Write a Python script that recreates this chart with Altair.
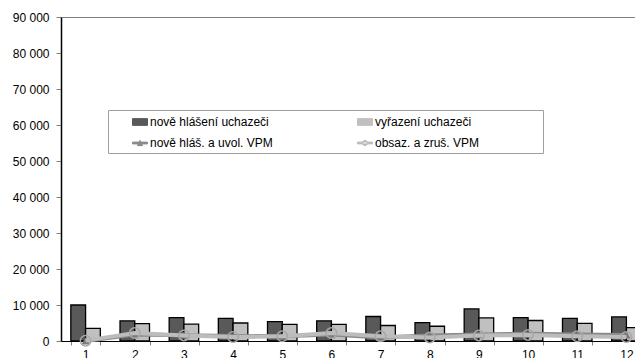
import altair as alt
import pandas as pd

months = [str(i) for i in range(1, 13)]
bar_series = ["nově hlášení uchazeči", "vyřazení uchazeči"]
line_series = ["nově hláš. a uvol. VPM", "obsaz. a zruš. VPM"]

nove_hlaseni = [10000, 5600, 6500, 6300, 5400, 5600, 6800, 5100, 8900, 6500, 6300, 6700]
vyrazeni = [3500, 4800, 4700, 5000, 4600, 4600, 4300, 4100, 6400, 5700, 4900, 3700]
nove_vpm = [0, 1800, 1600, 1400, 1300, 1800, 1000, 1500, 1800, 2000, 1800, 1700]
obsaz_vpm = [100, 2200, 1550, 1100, 1300, 2200, 1300, 1000, 1500, 1650, 1300, 1100]

y_ticks = list(range(0, 90001, 10000))

bars = pd.DataFrame(
    [{"m": m, "s": bar_series[0], "v": v} for m, v in zip(months, nove_hlaseni)]
    + [{"m": m, "s": bar_series[1], "v": v} for m, v in zip(months, vyrazeni)]
)
line1 = pd.DataFrame({"m": months, "s": line_series[0], "v": nove_vpm})
line2 = pd.DataFrame({"m": months, "s": line_series[1], "v": obsaz_vpm})

# legend fills column by column: col 1 = first bar + first line, col 2 = second bar + second line
domain = [bar_series[0], line_series[0], bar_series[1], line_series[1]]
colors = ["#595959", "#8a8a8a", "#c0c0c0", "#bcbcbc"]

is_bar = "datum.value == '" + bar_series[0] + "' || datum.value == '" + bar_series[1] + "'"
sym_expr = (
    is_bar + " ? 'M-1,-0.45H1V0.45H-1Z'"
    " : (datum.value == '" + line_series[0] + "'"
    " ? 'M-1,-0.12H1V0.12H-1Z M-0.35,0.35L0,-0.35L0.35,0.35Z'"
    " : 'M-1,-0.12H1V0.12H-1Z M-0.35,0A0.35,0.35 0 1 0 0.35,0A0.35,0.35 0 1 0 -0.35,0Z')"
)
stroke_expr = is_bar + " ? 'black' : 'transparent'"

color = alt.Color(
    "s:N",
    scale=alt.Scale(domain=domain, range=colors),
    legend=alt.Legend(
        title=".",
        titleColor="white",
        titleOrient="right",
        titlePadding=56,
        orient="none",
        legendX=47,
        legendY=93,
        columns=2,
        columnPadding=64,
        rowPadding=7,
        padding=4,
        symbolOffset=20,
        symbolSize=225,
        symbolType={"expr": sym_expr},
        symbolStrokeColor={"expr": stroke_expr},
        symbolStrokeWidth=1,
        labelFont="Liberation Sans",
        labelFontSize=12,
        labelColor="black",
        labelOffset=2,
        strokeColor="#a0a0a0",
        fillColor="white",
    ),
)

x = alt.X(
    "m:N",
    sort=months,
    scale=alt.Scale(paddingInner=0.4, paddingOuter=0.2),
    axis=alt.Axis(
        title=None,
        labelAngle=0,
        tickBand="extent",
        tickSize=4,
        tickColor="#808080",
        domainColor="black",
        labelPadding=4,
        labelFont="Liberation Sans",
        labelFontSize=12,
        labelColor="black",
    ),
)
y = alt.Y(
    "v:Q",
    scale=alt.Scale(domain=[0, 90000], nice=False),
    axis=alt.Axis(
        title=None,
        values=y_ticks,
        grid=False,
        tickSize=5,
        tickColor="#808080",
        domainColor="black",
        domainWidth=1.5,
        labelPadding=7,
        labelFont="Liberation Sans",
        labelFontSize=12,
        labelColor="black",
        labelExpr="replace(format(datum.value, ','), ',', ' ')",
    ),
)

bar_layer = alt.Chart(bars).mark_bar(stroke="black", strokeWidth=1.3).encode(
    x=x,
    y=y,
    xOffset=alt.XOffset("s:N", sort=bar_series, scale=alt.Scale(paddingInner=0, paddingOuter=0)),
    color=color,
)

l1 = alt.Chart(line1).mark_line(strokeWidth=4).encode(x=x, y=y, color=color)
p1 = alt.Chart(line1).mark_point(shape="triangle-up", filled=True, size=70, opacity=1).encode(
    x=x, y=y, color=alt.value("#7a7a7a")
)
l2 = alt.Chart(line2).mark_line(strokeWidth=4).encode(x=x, y=y, color=color)
p2 = alt.Chart(line2).mark_point(shape="circle", filled=False, size=110, strokeWidth=1.5, opacity=1).encode(
    x=x, y=y, color=alt.value("#a8a8a8")
)

chart = (
    alt.layer(bar_layer, l1, p1, l2, p2)
    .properties(
        width=590,
        height=324,
        padding={"left": 53, "top": 9, "right": -16, "bottom": 17},
        autosize=alt.AutoSizeParams(type="none"),
        background="white",
    )
    .configure_view(stroke="#808080", strokeWidth=1)
)

chart.save("out.html", embed_options={"renderer": "svg", "actions": False})
